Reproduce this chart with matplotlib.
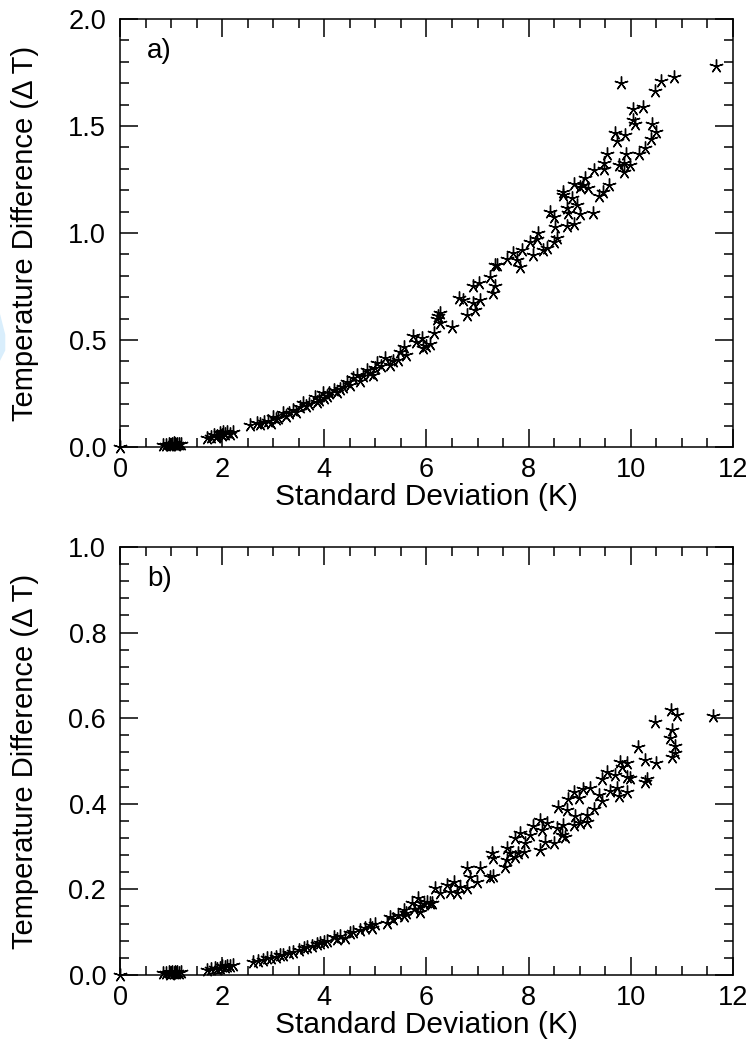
import matplotlib
matplotlib.use('Agg')
import matplotlib.pyplot as plt
from matplotlib.ticker import MultipleLocator
from matplotlib.patches import Polygon

plt.rcParams['font.family'] = ['Liberation Sans', 'DejaVu Sans']

# ---- panel a) data: standard deviation (K) vs temperature difference
sd_a = [0.0,
        0.85, 0.9, 0.95, 0.98, 1.0, 1.02, 1.05, 1.05, 1.08, 1.1, 1.12, 1.15, 1.2,
        1.7, 1.78, 1.83, 1.88, 1.9, 1.96, 2.0, 2.02, 2.05, 2.1, 2.15, 2.22,
        2.55, 2.68, 2.75, 2.81, 2.9, 2.95, 3.0, 3.05, 3.1,
        3.2, 3.25, 3.3, 3.39, 3.45, 3.53, 3.59, 3.65, 3.7, 3.82, 3.85, 3.9, 3.98, 4.0, 4.05,
        4.1, 4.18, 4.25, 4.3, 4.37, 4.44, 4.5, 4.57, 4.64, 4.7, 4.75, 4.83, 4.9, 4.96, 5.0,
        5.03, 5.1, 5.19, 5.29, 5.35, 5.45, 5.48, 5.55, 5.6, 5.74, 5.8, 5.91, 5.94, 6.0, 6.07,
        6.14, 6.2, 6.27, 6.27, 6.22, 6.5,
        6.63, 6.72, 6.79, 6.92, 6.95, 7.02, 7.05, 6.92, 7.25, 7.31, 7.34, 7.34,
        7.38, 7.57, 7.7, 7.77, 7.83, 7.87, 8.03, 8.09, 8.17, 8.19, 8.29, 8.36, 8.49, 8.55,
        8.52, 8.75, 8.88, 8.42, 8.49, 8.78, 9.0, 9.25, 8.94, 8.75,
        8.68, 8.67, 8.85, 9.45, 9.37, 8.88, 9.01, 9.07, 9.17, 9.58, 9.11,
        9.47, 9.27, 9.48, 9.86, 9.99, 9.76, 9.86, 9.53, 9.91, 10.17, 10.28,
        9.69, 9.89, 9.73, 10.40, 10.50, 10.41, 10.09, 10.04, 10.04, 10.24,
        10.48, 9.81, 10.59, 10.84, 11.67]
dt_a = [0.0,
        0.008, 0.01, 0.012, 0.007, 0.01, 0.015, 0.012, 0.018, 0.014, 0.01, 0.016, 0.013, 0.015,
        0.041, 0.048, 0.056, 0.045, 0.05, 0.064, 0.055, 0.07, 0.06, 0.068, 0.062, 0.072,
        0.103, 0.111, 0.105, 0.118, 0.12, 0.112, 0.142, 0.13, 0.135,
        0.157, 0.145, 0.16, 0.173, 0.165, 0.188, 0.204, 0.19, 0.2, 0.235, 0.21, 0.22, 0.251, 0.23, 0.24,
        0.25, 0.266, 0.255, 0.27, 0.282, 0.305, 0.29, 0.321, 0.336, 0.31, 0.33, 0.36, 0.345, 0.336, 0.37,
        0.391, 0.38, 0.414, 0.383, 0.4, 0.407, 0.445, 0.469, 0.43, 0.519, 0.49, 0.508, 0.461, 0.47, 0.481,
        0.534, 0.6, 0.625, 0.578, 0.61, 0.559,
        0.695, 0.687, 0.617, 0.671, 0.64, 0.765, 0.687, 0.75, 0.796, 0.718, 0.75, 0.85,
        0.85, 0.88, 0.905, 0.874, 0.84, 0.92, 0.96, 0.897, 0.97, 0.999, 0.92, 0.928, 0.96, 0.975,
        1.03, 1.033, 1.042, 1.097, 1.076, 1.092, 1.089, 1.095, 1.131, 1.115,
        1.193, 1.178, 1.162, 1.19, 1.173, 1.229, 1.216, 1.224, 1.21, 1.224, 1.256,
        1.326, 1.294, 1.30, 1.325, 1.318, 1.318, 1.287, 1.37, 1.37, 1.37, 1.396,
        1.466, 1.458, 1.43, 1.44, 1.47, 1.51, 1.51, 1.53, 1.58, 1.59,
        1.665, 1.70, 1.71, 1.73, 1.78]

# ---- panel b) data
sd_b = [0.0,
        0.85, 0.9, 0.95, 0.98, 1.0, 1.02, 1.05, 1.08, 1.1, 1.12, 1.15, 1.2,
        1.7, 1.78, 1.85, 1.9, 1.96, 2.0, 2.05, 2.1, 2.15, 2.22,
        2.61, 2.7, 2.8, 2.87, 2.95, 3.05, 3.13, 3.2, 3.3, 3.39, 3.5, 3.6, 3.66, 3.75, 3.85, 3.92, 4.0, 4.05,
        4.18, 4.25, 4.3, 4.41, 4.5, 4.57, 4.7, 4.8, 4.9, 4.93, 5.0,
        5.22, 5.29, 5.35, 5.45, 5.55, 5.55, 5.6, 5.71, 5.75, 5.84, 5.88, 5.88, 5.95, 6.01, 6.07, 6.1,
        6.17, 6.27, 6.40, 6.46, 6.53, 6.59, 6.66, 6.79, 6.79, 6.85, 6.99, 7.05,
        7.25, 7.31, 7.28, 7.31, 7.54, 7.57, 7.64, 7.80, 7.90, 7.57, 7.74, 7.83, 7.74, 8.03, 7.93,
        8.23, 8.32, 8.49, 8.65, 8.72, 8.26, 8.55, 8.09, 8.36, 8.68, 8.88, 9.01, 9.14, 8.23,
        8.58, 8.75, 9.27, 8.91, 9.14, 8.78, 8.98, 9.37, 9.43, 8.88, 9.07, 9.20, 9.60, 9.73, 9.92, 9.76,
        9.53, 9.43, 9.69, 9.92, 9.99, 10.32, 10.28, 9.79, 9.92, 9.83, 10.27, 10.50,
        10.15, 10.87, 10.80, 10.87, 10.76, 10.80, 10.48, 10.78, 10.90, 11.61]
dt_b = [0.0,
        0.004, 0.005, 0.006, 0.003, 0.005, 0.007, 0.005, 0.006, 0.004, 0.007, 0.005, 0.006,
        0.012, 0.014, 0.016, 0.013, 0.016, 0.02, 0.018, 0.021, 0.02, 0.023,
        0.031, 0.033, 0.036, 0.039, 0.04, 0.043, 0.047, 0.046, 0.052, 0.054, 0.058, 0.062, 0.066, 0.068, 0.072, 0.074, 0.078, 0.08,
        0.089, 0.085, 0.092, 0.086, 0.098, 0.101, 0.105, 0.11, 0.117, 0.109, 0.12,
        0.121, 0.136, 0.13, 0.14, 0.152, 0.138, 0.145, 0.167, 0.155, 0.179, 0.16, 0.148, 0.165, 0.171, 0.167, 0.167,
        0.203, 0.191, 0.21, 0.195, 0.218, 0.191, 0.206, 0.203, 0.249, 0.23, 0.218, 0.249,
        0.23, 0.231, 0.284, 0.273, 0.253, 0.269, 0.284, 0.284, 0.288, 0.296, 0.276, 0.331, 0.319, 0.327, 0.308,
        0.292, 0.311, 0.309, 0.327, 0.323, 0.339, 0.343, 0.348, 0.354, 0.35, 0.35, 0.354, 0.358, 0.362,
        0.392, 0.386, 0.387, 0.371, 0.374, 0.41, 0.413, 0.42, 0.407, 0.428, 0.434, 0.436, 0.43, 0.436, 0.428, 0.417,
        0.475, 0.458, 0.467, 0.463, 0.46, 0.457, 0.452, 0.498, 0.495, 0.487, 0.502, 0.496,
        0.533, 0.535, 0.51, 0.518, 0.553, 0.572, 0.59, 0.619, 0.607, 0.605]

panels = [
    (sd_a, dt_a, 2.0, 0.5, 0.1, 'a)', 0.5727),
    (sd_b, dt_b, 1.0, 0.2, 0.04, 'b)', 0.0679),
]

fig = plt.figure(figsize=(7.53, 10.46), dpi=100)

for sd, dt, ymax, ymaj, ymin, tag, bottom in panels:
    ax = fig.add_axes([0.1594, bottom, 0.814, 0.4092])
    ax.plot(sd, dt, linestyle='none', marker=(5, 2, 0), markersize=10,
            markeredgewidth=1.0, color='black', clip_on=False)
    ax.set_xlim(0, 12)
    ax.set_ylim(0, ymax)
    ax.xaxis.set_major_locator(MultipleLocator(2))
    ax.xaxis.set_minor_locator(MultipleLocator(0.5))
    ax.yaxis.set_major_locator(MultipleLocator(ymaj))
    ax.yaxis.set_minor_locator(MultipleLocator(ymin))
    ax.xaxis.set_major_formatter(plt.FormatStrFormatter('%d'))
    ax.yaxis.set_major_formatter(plt.FormatStrFormatter('%.1f'))
    ax.tick_params(which='both', direction='in', top=True, right=True,
                   width=1.1, labelsize=19.5, color='black')
    ax.tick_params(which='major', length=13)
    ax.tick_params(which='minor', length=6.5)
    ax.tick_params(axis='y', pad=10)
    ax.tick_params(axis='x', pad=7)
    for sp in ax.spines.values():
        sp.set_linewidth(1.1)
    ax.set_xlabel('Standard Deviation (K)', fontsize=21.5, labelpad=0)
    ax.set_ylabel('Temperature Difference (\u0394 T)', fontsize=21)
    ax.yaxis.set_label_coords(-0.132, 0.5)
    ax.text(0.044, 0.925, tag, transform=ax.transAxes, fontsize=20,
            ha='left', va='center')

# faint light-blue scan mark at the left edge
fig.patches.append(Polygon([[0.0, 0.700], [0.007, 0.680], [0.007, 0.665], [0.0, 0.655]],
                           closed=True, transform=fig.transFigure,
                           facecolor='#d9eefc', edgecolor='none'))

fig.savefig('out.png', dpi=100)
